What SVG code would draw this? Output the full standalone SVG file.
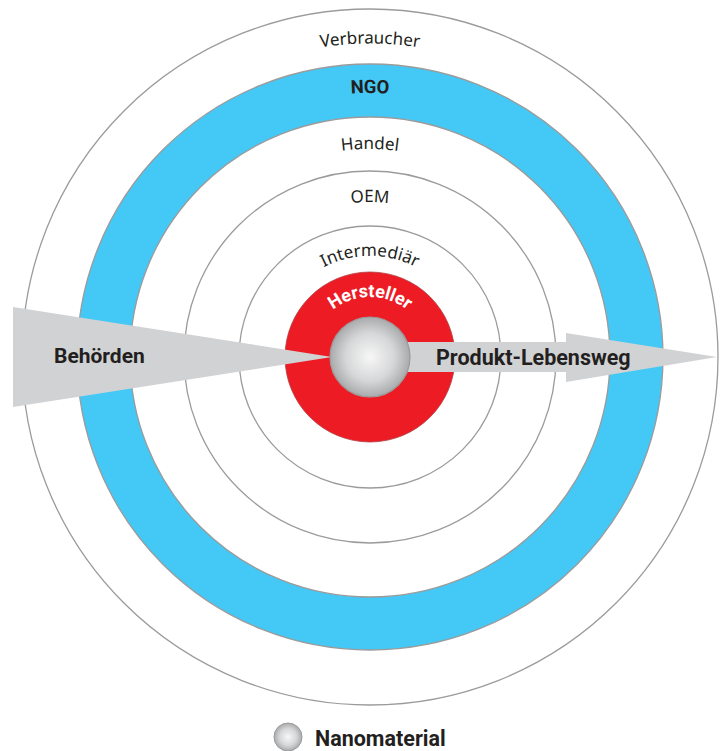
<svg xmlns="http://www.w3.org/2000/svg" width="726" height="751" viewBox="0 0 726 751">
<style>
.ring{fill:none;stroke:#9b9b9b;stroke-width:1.3}
.lbl{font-family:"Noto Sans","Open Sans",sans-serif;font-size:17px;fill:#231f20}
.bold{font-family:Roboto,"Liberation Sans",sans-serif;font-weight:700;fill:#231f20}
</style>
<defs>
<radialGradient id="sph" cx="50%" cy="50%" r="50%">
<stop offset="0" stop-color="#f7f7f7"/>
<stop offset="0.6" stop-color="#d6d7d8"/>
<stop offset="1" stop-color="#a9aaac"/>
</radialGradient>
<path id="aV" d="M56.5,357 A313.5,313.5 0 0 1 683.5,357"/>
<path id="aN" d="M106,357 A264,264 0 0 1 634,357"/>
<path id="aH" d="M162,357 A208,208 0 0 1 578,357"/>
<path id="aO" d="M215,357 A155,155 0 0 1 525,357"/>
<path id="aI" d="M269,357 A101,101 0 0 1 471,357"/>
<path id="aR" d="M310,357 A60,60 0 0 1 430,357"/>
</defs>
<rect width="726" height="751" fill="#ffffff"/>
<g id="rings">
<circle class="ring" cx="370" cy="357" r="348" fill="#fff"/>
<circle cx="370" cy="357" r="293" fill="#44c8f5" stroke="#9b9b9b" stroke-width="1.3"/>
<circle cx="370" cy="357" r="240" fill="#fff" stroke="#9b9b9b" stroke-width="1.3"/>
<circle class="ring" cx="370" cy="357" r="186"/>
<circle class="ring" cx="370" cy="357" r="131"/>
</g>
<g id="verbraucher"><text class="lbl"><textPath href="#aV" startOffset="50%" text-anchor="middle">Verbraucher</textPath></text></g>
<g id="ngo"><text class="bold" font-size="18.5"><textPath href="#aN" startOffset="50%" text-anchor="middle">NGO</textPath></text></g>
<g id="handel"><text class="lbl"><textPath href="#aH" startOffset="50%" text-anchor="middle">Handel</textPath></text></g>
<g id="oem"><text class="lbl"><textPath href="#aO" startOffset="50%" text-anchor="middle">OEM</textPath></text></g>
<g id="intermediaer"><text class="lbl"><textPath href="#aI" startOffset="50%" text-anchor="middle">Intermediär</textPath></text></g>
<g id="hersteller">
<circle cx="370" cy="357" r="85" fill="#ed1c24" stroke="#b03a3e" stroke-width="0.8"/>
<text class="bold" font-size="18" style="fill:#fff"><textPath href="#aR" startOffset="50%" text-anchor="middle">Hersteller</textPath></text>
</g>
<g id="connectors">
<g id="behoerden">
<polygon points="13,307 13,407 332,357" fill="#d1d2d4"/>
<text class="bold" x="54" y="363" font-size="21">Behörden</text>
</g>
<g id="lebensweg">
<polygon points="370,342 566,342 566,333 717,357 566,382 566,372 370,372" fill="#d1d2d4"/>
<text class="bold" x="436" y="365" font-size="21.5">Produkt-Lebensweg</text>
</g>
</g>
<g id="nanomaterial">
<circle cx="370" cy="357" r="40" fill="url(#sph)" stroke="#9b9b9b" stroke-width="1.2"/>
</g>
<g id="legend">
<circle cx="288" cy="737" r="14" fill="url(#sph)" stroke="#9b9b9b" stroke-width="1"/>
<text class="bold" x="315" y="746" font-size="21.5">Nanomaterial</text>
</g>
</svg>
